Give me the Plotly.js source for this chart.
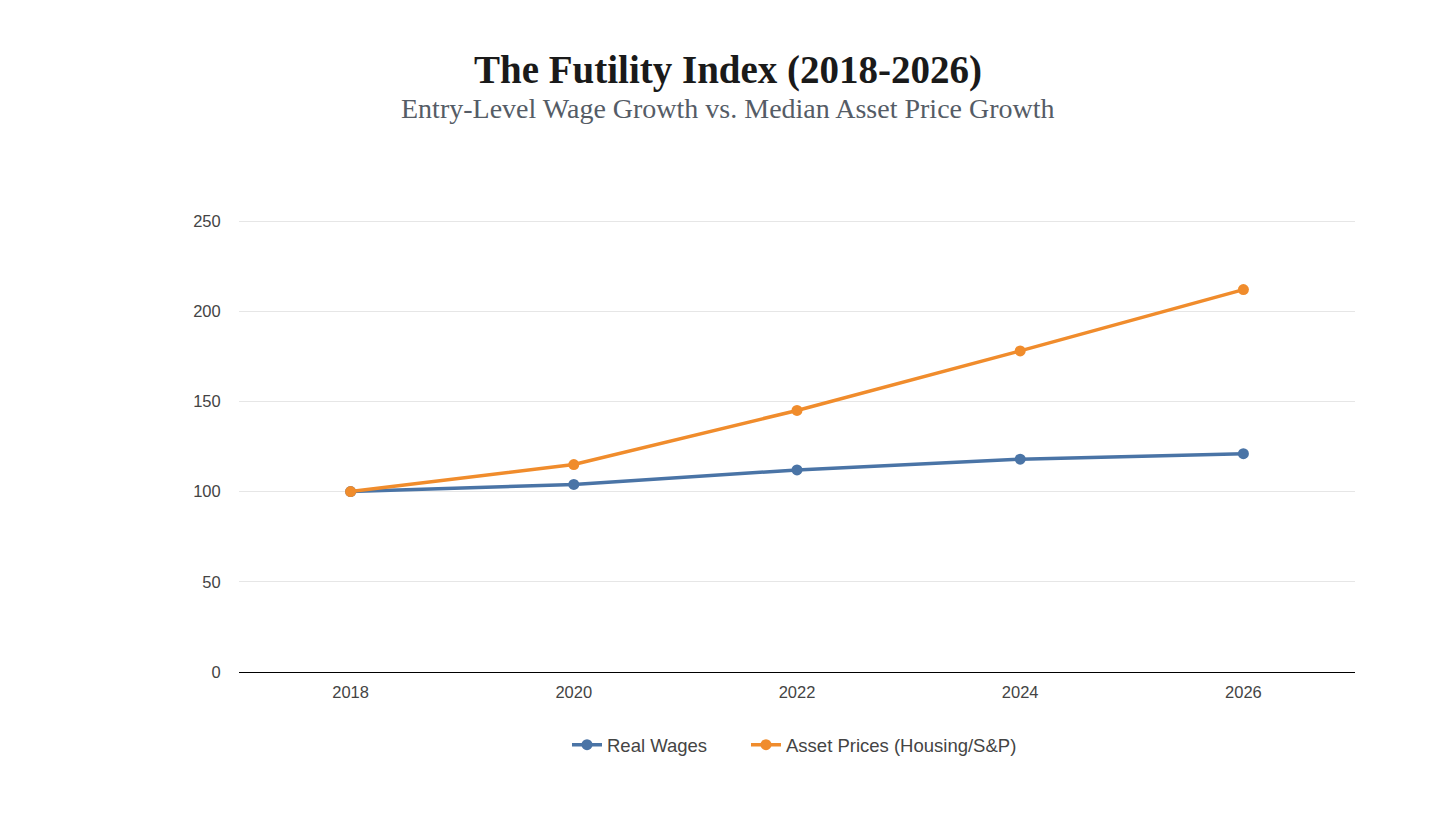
<!DOCTYPE html>
<html>
<head>
<meta charset="utf-8">
<script src="https://cdn.plot.ly/plotly-3.0.1.min.js"></script>
<style>html,body{margin:0;padding:0;background:#fff;}#chart{width:1456px;height:819px;}</style>
</head>
<body>
<div id="chart"></div>
<script>
const years = ['2018', '2020', '2022', '2024', '2026'];
const realWages = [100, 104, 112, 118, 121];
const assetPrices = [100, 115, 145, 178, 212];
const yTicks = [0, 50, 100, 150, 200, 250];

const traces = [
  {x: years, y: realWages, name: 'Real Wages', type: 'scatter', mode: 'lines+markers', legend: 'legend',
   line: {color: '#4a74a6', width: 3.5}, marker: {color: '#4a74a6', size: 11}},
  {x: years, y: assetPrices, name: 'Asset Prices (Housing/S&P)', type: 'scatter', mode: 'lines+markers', legend: 'legend2',
   line: {color: '#f08c2c', width: 3.5}, marker: {color: '#f08c2c', size: 11}}
];

const legendFont = {size: 18.5, color: '#444'};
const layout = {
  width: 1456, height: 819,
  paper_bgcolor: '#fff', plot_bgcolor: '#fff',
  margin: {l: 239, r: 101, t: 212, b: 147},
  font: {family: 'Liberation Sans, Arial, sans-serif', color: '#444', size: 16},
  xaxis: {type: 'category', range: [-0.5, 4.5], showgrid: false, showline: true, linecolor: '#000', linewidth: 1.2,
          ticks: 'outside', ticklen: 5, tickcolor: 'rgba(0,0,0,0)', tickfont: {size: 16.5, color: '#444'}, zeroline: false, fixedrange: true},
  yaxis: {range: [0, 255], tickvals: yTicks, showgrid: true, gridcolor: '#e6e6e6', gridwidth: 1, zeroline: false,
          ticks: 'outside', ticklen: 14, tickcolor: 'rgba(0,0,0,0)', tickfont: {size: 16.5, color: '#444'}, showline: false},
  showlegend: true,
  legend: {orientation: 'h', x: 0.2939, xanchor: 'left', y: -0.159, yanchor: 'middle', font: legendFont},
  legend2: {orientation: 'h', x: 0.4543, xanchor: 'left', y: -0.159, yanchor: 'middle', font: legendFont},
  annotations: [
    {text: '<b>The Futility Index (2018-2026)</b>', xref: 'paper', yref: 'paper', x: 0.438, y: 1.309, xanchor: 'center', yanchor: 'middle',
     showarrow: false, font: {family: 'Liberation Serif, DejaVu Serif, serif', size: 39, color: '#1a1a1a'}},
    {text: 'Entry-Level Wage Growth vs. Median Asset Price Growth', xref: 'paper', yref: 'paper', x: 0.438, y: 1.224, xanchor: 'center', yanchor: 'middle',
     showarrow: false, font: {family: 'Liberation Serif, DejaVu Serif, serif', size: 28, color: '#555c66'}}
  ]
};

Plotly.newPlot('chart', traces, layout, {displayModeBar: false, staticPlot: true});
</script>
</body>
</html>
